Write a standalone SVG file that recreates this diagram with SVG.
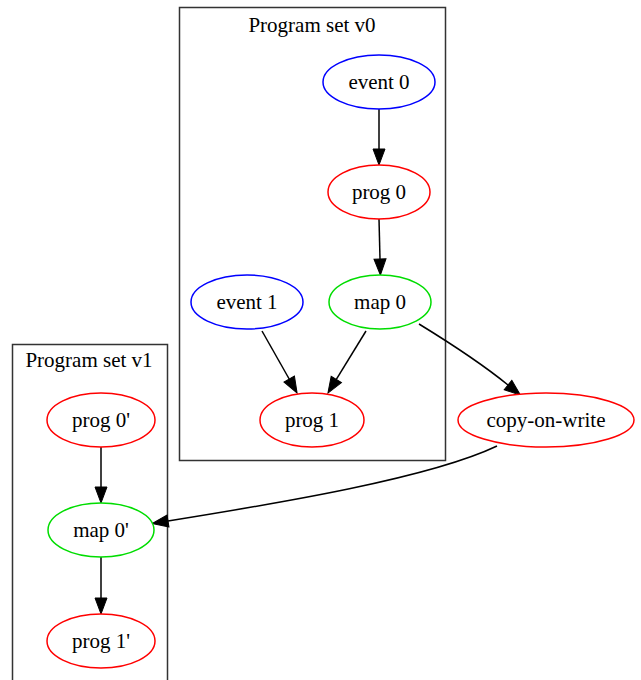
<svg xmlns="http://www.w3.org/2000/svg" width="641" height="680" viewBox="0 0 641 680">
  <style>
    text { font-family: "Liberation Serif", "Times New Roman", serif; font-size: 21px; fill: #000; text-anchor: middle; }
    .cluster { fill: none; stroke: #333; stroke-width: 1.5; }
    .node { fill: #fff; stroke-width: 1.5; }
    .event { stroke: #0000ff; }
    .prog { stroke: #ff0000; }
    .map { stroke: #00dd00; }
    .edge { fill: none; stroke: #000; stroke-width: 1.5; marker-end: url(#arrow); }
  </style>
  <defs>
    <marker id="arrow" markerUnits="userSpaceOnUse" markerWidth="17" markerHeight="13" refX="0" refY="6" orient="auto" viewBox="0 0 17 12" overflow="visible">
      <path d="M0,0 L16,6 L0,12 z" fill="#000" stroke="#000" stroke-width="1"/>
    </marker>
  </defs>
  <rect width="641" height="680" fill="#fff"/>

  <g id="cluster_v0">
    <rect class="cluster" x="179.5" y="7.5" width="266" height="453"/>
    <text x="312" y="32">Program set v0</text>
  </g>
  <g id="cluster_v1">
    <rect class="cluster" x="12.5" y="344.5" width="155" height="345"/>
    <text x="89" y="367">Program set v1</text>
  </g>

  <g id="connectors">
    <path class="edge" d="M379,109 L379,149"/>
    <path class="edge" d="M379,219 L380,259"/>
    <path class="edge" d="M262,331 L289.2,379"/>
    <path class="edge" d="M366,331 L336.3,379.4"/>
    <path class="edge" d="M419,324 C450,343 481,363 508,385"/>
    <path class="edge" d="M497,446 C430,478 280,503 168,521"/>
    <path class="edge" d="M101,447 L101,487"/>
    <path class="edge" d="M101,557 L101,598"/>
  </g>

  <g id="event0">
    <ellipse class="node event" cx="379" cy="82" rx="56" ry="27"/>
    <text x="379" y="89">event 0</text>
  </g>
  <g id="prog0">
    <ellipse class="node prog" cx="379" cy="192" rx="51" ry="27"/>
    <text x="379" y="199">prog 0</text>
  </g>
  <g id="map0">
    <ellipse class="node map" cx="380" cy="302" rx="51" ry="27"/>
    <text x="380" y="309">map 0</text>
  </g>
  <g id="event1">
    <ellipse class="node event" cx="247" cy="302" rx="56" ry="27"/>
    <text x="247" y="309">event 1</text>
  </g>
  <g id="prog1">
    <ellipse class="node prog" cx="312" cy="420" rx="52" ry="27"/>
    <text x="312" y="427">prog 1</text>
  </g>
  <g id="copy_on_write">
    <ellipse class="node prog" cx="546" cy="420" rx="88" ry="27"/>
    <text x="546" y="427">copy-on-write</text>
  </g>
  <g id="prog0_v1">
    <ellipse class="node prog" cx="101" cy="420" rx="54" ry="27"/>
    <text x="101" y="427">prog 0'</text>
  </g>
  <g id="map0_v1">
    <ellipse class="node map" cx="101" cy="530" rx="53" ry="27"/>
    <text x="101" y="537">map 0'</text>
  </g>
  <g id="prog1_v1">
    <ellipse class="node prog" cx="101" cy="641" rx="54" ry="27"/>
    <text x="101" y="648">prog 1'</text>
  </g>
</svg>
